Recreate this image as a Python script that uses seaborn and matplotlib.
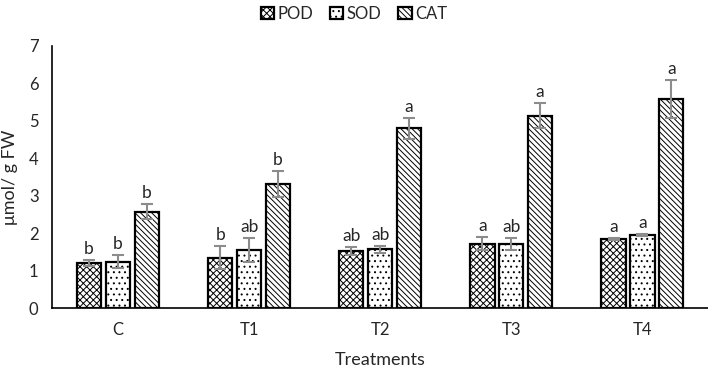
import matplotlib

matplotlib.use("Agg")

import matplotlib.pyplot as plt
import pandas as pd
import seaborn as sns

TREATMENTS = ["C", "T1", "T2", "T3", "T4"]
ENZYMES = ["POD", "SOD", "CAT"]

POD_MEAN = [1.21, 1.34, 1.52, 1.72, 1.84]
SOD_MEAN = [1.24, 1.55, 1.57, 1.71, 1.95]
CAT_MEAN = [2.57, 3.31, 4.80, 5.14, 5.58]

POD_ERR = [0.08, 0.31, 0.10, 0.17, 0.03]
SOD_ERR = [0.18, 0.33, 0.10, 0.17, 0.03]
CAT_ERR = [0.20, 0.35, 0.28, 0.33, 0.50]

POD_LETTERS = ["b", "b", "ab", "a", "a"]
SOD_LETTERS = ["b", "ab", "ab", "ab", "a"]
CAT_LETTERS = ["b", "b", "a", "a", "a"]

HATCHES = {"POD": "xxxxx", "SOD": "...", "CAT": "\\\\\\\\\\\\"}


def build_frame() -> pd.DataFrame:
    rows = []
    series = {
        "POD": (POD_MEAN, POD_ERR, POD_LETTERS),
        "SOD": (SOD_MEAN, SOD_ERR, SOD_LETTERS),
        "CAT": (CAT_MEAN, CAT_ERR, CAT_LETTERS),
    }
    for enzyme, (means, errs, letters) in series.items():
        for treatment, mean, err, letter in zip(TREATMENTS, means, errs, letters):
            rows.append(
                {"treatment": treatment, "enzyme": enzyme, "value": mean, "err": err, "letter": letter}
            )
    return pd.DataFrame(rows)


def main() -> None:
    df = build_frame()

    sns.set_theme(style="white")
    plt.rcParams["font.family"] = ["Lato", "DejaVu Sans"]
    plt.rcParams["hatch.linewidth"] = 0.7

    fig = plt.figure(figsize=(7.08, 3.68), dpi=100)
    ax = fig.add_axes([0.074, 0.163, 0.926, 0.712])

    sns.barplot(
        data=df,
        x="treatment",
        y="value",
        hue="enzyme",
        order=TREATMENTS,
        hue_order=ENZYMES,
        palette=["white"] * 3,
        edgecolor="black",
        linewidth=1.6,
        width=0.66,
        gap=0.16,
        errorbar=None,
        ax=ax,
    )
    bar_containers = list(ax.containers)

    for enzyme, container in zip(ENZYMES, bar_containers):
        sub = df[df["enzyme"] == enzyme].set_index("treatment").loc[TREATMENTS]
        xs = []
        for patch in container.patches:
            patch.set_hatch(HATCHES[enzyme])
            xs.append(patch.get_x() + patch.get_width() / 2)
        ax.errorbar(
            xs,
            sub["value"],
            yerr=sub["err"],
            fmt="none",
            ecolor="#8c8c8c",
            elinewidth=1.5,
            capsize=4,
            capthick=1.5,
            zorder=4,
        )
        for x, v, e, letter in zip(xs, sub["value"], sub["err"], sub["letter"]):
            ax.text(x, v + e + 0.08, letter, ha="center", va="bottom", fontsize=12.5)

    ax.get_legend().remove()
    handles = [c.patches[0] for c in bar_containers]
    fig.legend(
        handles,
        ENZYMES,
        loc="upper center",
        bbox_to_anchor=(0.5, 1.025),
        ncol=3,
        frameon=False,
        fontsize=12,
        handlelength=0.8,
        handleheight=0.8,
        handletextpad=0.2,
        columnspacing=1.0,
    )

    ax.set_xlim(-0.5, 4.5)
    ax.set_ylim(0, 7)
    ax.set_yticks(range(0, 8))
    ax.tick_params(axis="both", labelsize=12, length=0, pad=10)
    ax.set_xlabel("Treatments", fontsize=13, labelpad=10)
    ax.set_ylabel("μmol/ g FW", fontsize=13, labelpad=8)
    for side in ["top", "right"]:
        ax.spines[side].set_visible(False)
    for side in ["left", "bottom"]:
        ax.spines[side].set_color("black")
        ax.spines[side].set_linewidth(1.2)

    fig.savefig("out.png", dpi=100)
    plt.close(fig)


if __name__ == "__main__":
    main()
